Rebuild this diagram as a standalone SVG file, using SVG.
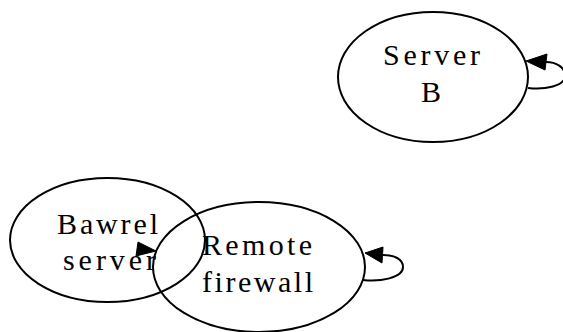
<svg xmlns="http://www.w3.org/2000/svg" width="563" height="332" viewBox="0 0 563 332">
<style>
.n{fill:none;stroke:#000;stroke-width:2}
.e{fill:none;stroke:#000;stroke-width:2}
.a{fill:#000;stroke:#000;stroke-width:1}
text{font-family:"Liberation Serif","Times New Roman",serif;font-size:30px;fill:#000}
</style>
<rect width="563" height="332" fill="#fff"/>
<g id="edges">
<path class="e" d="M528,88 C545,90 565,86 565,76 C565,67 556,62 546,62"/>
<polygon class="a" points="526,61 547,54 545,70"/>
<path class="e" d="M363,280 C380,282 403,278 403,267 C403,259 394,255 383,255"/>
<polygon class="a" points="365,253 383,247 382,263"/>
<polygon class="a" points="138,242 136,256 156,251"/>
</g>
<g id="server-b">
<ellipse class="n" cx="433" cy="77" rx="95" ry="65"/>
<text x="383" y="65" textLength="97" lengthAdjust="spacing">Server</text>
<text x="431" y="102" text-anchor="middle">B</text>
</g>
<g id="bawrel-server">
<ellipse class="n" cx="107.5" cy="240" rx="97.5" ry="62"/>
<text x="57" y="234" textLength="101" lengthAdjust="spacing">Bawrel</text>
<text x="63" y="270" textLength="93" lengthAdjust="spacing">server</text>
</g>
<g id="remote-firewall">
<ellipse class="n" cx="259" cy="267" rx="106" ry="65"/>
<text x="202" y="255" textLength="110" lengthAdjust="spacing">Remote</text>
<text x="202" y="292" textLength="111" lengthAdjust="spacing">firewall</text>
</g>
</svg>
